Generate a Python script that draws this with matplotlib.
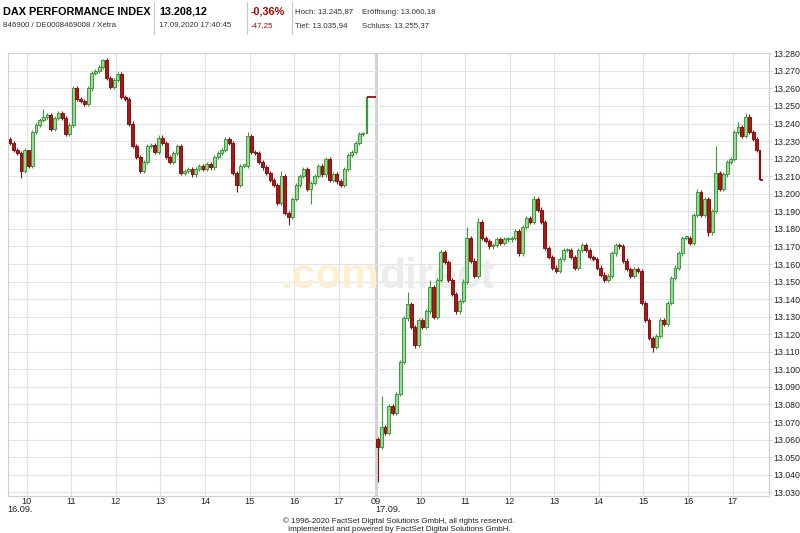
import matplotlib
matplotlib.use("Agg")
import matplotlib.pyplot as plt

# 5-minute closes, 16.09. from 09:35 and 17.09. from 09:00 (open = previous close)
day1_start = 9 + 35 / 60
day1_open = 13231
day1_close = [13229, 13225, 13223, 13213, 13225, 13216, 13235, 13239, 13242, 13244,
              13245, 13237, 13243, 13246, 13243, 13234, 13239, 13260, 13254, 13253,
              13251, 13260, 13269, 13270, 13272, 13276, 13266, 13261, 13265, 13268,
              13255, 13254, 13240, 13227, 13221, 13213, 13218, 13227, 13228, 13224,
              13232, 13229, 13221, 13218, 13223, 13227, 13212, 13213, 13214, 13211,
              13214, 13216, 13214, 13217, 13215, 13221, 13223, 13225, 13231, 13229,
              13212, 13205, 13216, 13216, 13233, 13224, 13223, 13218, 13215, 13212,
              13208, 13205, 13195, 13210, 13189, 13187, 13197, 13205, 13210, 13214,
              13203, 13206, 13210, 13216, 13211, 13220, 13208, 13211, 13207, 13205,
              13214, 13222, 13224, 13229, 13234, 13234]
day1_auction = 13255.37
day1_end = 17 + 50 / 60
day1_highs = {5: 13224, 9: 13248, 25: 13277, 64: 13235, 73: 13213, 85: 13221}
day1_lows = {3: 13209, 61: 13201, 75: 13182, 81: 13194}

day2_start = 9.0
day2_open = 13060.18
day2_close = [13056, 13067, 13064, 13079, 13075, 13086, 13104, 13129, 13137, 13124,
              13114, 13128, 13124, 13133, 13147, 13130, 13151, 13167, 13161, 13151,
              13143, 13133, 13139, 13150, 13175, 13162, 13153, 13184, 13175, 13173,
              13170, 13171, 13174, 13172, 13174, 13174, 13175, 13179, 13166, 13181,
              13186, 13184, 13197, 13191, 13184, 13169, 13164, 13158, 13156, 13163,
              13168, 13168, 13164, 13158, 13168, 13171, 13168, 13164, 13163, 13158,
              13154, 13151, 13153, 13166, 13171, 13170, 13162, 13157, 13153, 13157,
              13156, 13138, 13128, 13118, 13113, 13119, 13128, 13126, 13138, 13152,
              13158, 13166, 13175, 13175, 13172, 13188, 13201, 13188, 13197, 13178,
              13190, 13212, 13203, 13211, 13218, 13220, 13235, 13238, 13233, 13244,
              13235, 13231, 13225]
day2_auction = 13208.12
day2_end = 17 + 41 / 60
day2_highs = {1: 13085, 8: 13144, 14: 13151, 24: 13181, 27: 13186, 42: 13199,
              86: 13203, 91: 13227, 97: 13241, 99: 13245.87}
day2_lows = {0: 13035.94, 10: 13112, 74: 13110, 89: 13176}

day_shift = 8 + 50 / 60   # 17.09. 09:00 sits where 16.09. 17:50 ends
y_ticks = list(range(13030, 13281, 10))

GREEN_FILL, GREEN_EDGE = "#97db97", "#3a9a3a"
RED_FILL, RED_EDGE = "#a8191a", "#8a0f10"
NARROW = ["Liberation Sans Narrow", "Liberation Sans", "DejaVu Sans"]
SANS = ["Liberation Sans", "DejaVu Sans"]

fig = plt.figure(figsize=(8, 5.33), dpi=100)
ax = fig.add_axes([8 / 800, (533 - 495.8) / 533, 761 / 800, (495.8 - 53.3) / 533])


def draw_day(start, shift, first_open, closes, auction, end, highs, lows):
    bar = 5 / 60
    opens = [first_open] + closes[:-1]
    xs = [shift + start + (i + 0.5) * bar for i in range(len(closes))]
    for i, (x, o, c) in enumerate(zip(xs, opens, closes)):
        hi = highs.get(i, max(o, c) + 1.2)
        lo = lows.get(i, min(o, c) - 1.2)
        up = c >= o
        edge = GREEN_EDGE if up else RED_EDGE
        ax.vlines(x, lo, hi, color=edge, lw=0.8, zorder=3)
        ax.bar(x, max(abs(c - o), 0.8), bottom=min(o, c), width=bar * 0.8,
               color=GREEN_FILL if up else RED_FILL, edgecolor=edge, lw=0.7, zorder=4)
    # closing auction and flat line afterwards
    xa = shift + start + (len(closes) + 0.5) * bar
    up = auction >= closes[-1]
    ax.vlines(xa, min(closes[-1], auction), max(closes[-1], auction),
              color=GREEN_EDGE if up else RED_EDGE, lw=1.6, zorder=4)
    ax.hlines(auction, xa, shift + end, color=RED_EDGE, lw=1.3, zorder=4)


draw_day(day1_start, 0, day1_open, day1_close, day1_auction, day1_end, day1_highs, day1_lows)
draw_day(day2_start, day_shift, day2_open, day2_close, day2_auction, day2_end, day2_highs, day2_lows)

ax.set_xlim(9.58, 26.65)
ax.set_ylim(13028, 13280)

# grid
hours1 = list(range(10, 18))
hours2 = list(range(9, 18))
xt = hours1 + [h + day_shift for h in hours2]
xl = [f"{h:02d}" for h in hours1] + [f"{h:02d}" for h in hours2]
for x in xt:
    ax.axvline(x, color="#e3e3e3", lw=0.8, zorder=1)
ax.axvline(9 + day_shift, color="#d2d2d2", lw=2.2, zorder=1)
for y in y_ticks:
    ax.axhline(y, color="#e3e3e3", lw=0.8, zorder=1)

ax.set_xticks(xt)
ax.set_xticklabels(xl, fontsize=6.6, family=NARROW, color="#222222")
ax.yaxis.tick_right()
ax.set_yticks(y_ticks)
ax.set_yticklabels([f"{v // 1000}.{v % 1000:03d}" for v in y_ticks],
                   fontsize=6.3, family=SANS, color="#222222")
ax.tick_params(axis="x", length=0, pad=1)
ax.tick_params(axis="y", length=2, width=0.6, color="#cfcfcf", pad=1)
for s in ax.spines.values():
    s.set_color("#cfcfcf")
    s.set_linewidth(0.8)

# watermark
ax.text(0.4875, 0.47, ".com", transform=ax.transAxes, ha="right", va="baseline",
        fontsize=30.5, fontweight="bold", color="#fdefd2", family=SANS, zorder=2)
ax.text(0.4875, 0.47, "direct", transform=ax.transAxes, ha="left", va="baseline",
        fontsize=30.5, fontweight="bold", color="#ececec", family=SANS, zorder=2)


def px(x, y):
    return x / 800, 1 - y / 533


# date labels
fig.text(*px(7, 510), "16.09.", fontsize=6.6, family=NARROW, va="center", color="#222222")
fig.text(*px(375, 510), "17.09.", fontsize=6.6, family=NARROW, va="center", color="#222222")

# header
fig.text(*px(3, 12), "DAX PERFORMANCE INDEX", fontsize=7.8, fontweight="bold", family=SANS, va="center")
fig.text(*px(3, 25.5), "846900 / DE0008469008 / Xetra", fontsize=5.7, family=SANS, va="center", color="#333333")
fig.text(*px(159, 12), "13.208,12", fontsize=7.8, fontweight="bold", family=SANS, va="center")
fig.text(*px(159, 25.5), "17.09.2020 17:40:45", fontsize=5.7, family=SANS, va="center", color="#333333")
fig.text(*px(251, 12), "-0,36%", fontsize=7.8, fontweight="bold", family=SANS, va="center", color="#b30000")
fig.text(*px(251, 25.5), "-47,25", fontsize=5.7, family=SANS, va="center", color="#b30000")
fig.text(*px(295, 12), "Hoch: 13.245,87", fontsize=5.7, family=SANS, va="center", color="#333333")
fig.text(*px(362, 12), "Eröffnung: 13.060,18", fontsize=5.7, family=SANS, va="center", color="#333333")
fig.text(*px(295, 25.5), "Tief: 13.035,94", fontsize=5.7, family=SANS, va="center", color="#333333")
fig.text(*px(362, 25.5), "Schluss: 13.255,37", fontsize=5.7, family=SANS, va="center", color="#333333")
for xs in (154, 247, 292):
    fig.add_artist(plt.Line2D([xs / 800] * 2, [1 - 2 / 533, 1 - 34 / 533], color="#c8c8c8", lw=0.8))

# footer
fig.text(*px(399, 521), "© 1996-2020 FactSet Digital Solutions GmbH, all rights reserved.",
         fontsize=5.8, family=NARROW, ha="center", va="center", color="#222222")
fig.text(*px(399, 529.5), "Implemented and powered by FactSet Digital Solutions GmbH.",
         fontsize=5.8, family=NARROW, ha="center", va="center", color="#222222")

fig.savefig("out.png", dpi=100)
